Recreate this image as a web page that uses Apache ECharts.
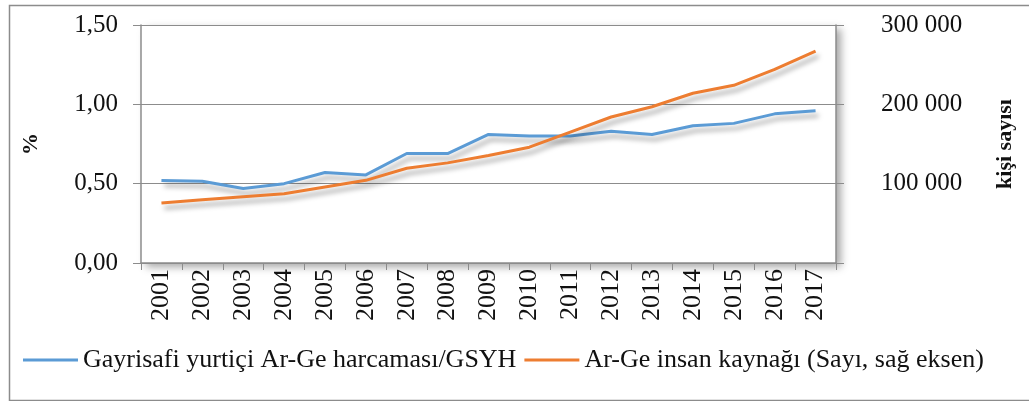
<!DOCTYPE html>
<head>
    <meta charset="utf-8">
    <title>ECharts</title>
</head>
<body style="margin:0">

<div id="main" style="height:401px;width:1029px"></div>
<script src="https://cdn.jsdelivr.net/npm/echarts@6/dist/echarts.min.js"></script>

<script type="text/javascript">
// yillar
var years = ['2001','2002','2003','2004','2005','2006','2007','2008','2009',
             '2010','2011','2012','2013','2014','2015','2016','2017'];
// Ar-Ge harcamasi / GSYH (%)
var argeGsyh = [0.52, 0.515, 0.47, 0.50, 0.57, 0.555, 0.69, 0.69, 0.81,
                0.80, 0.80, 0.83, 0.81, 0.865, 0.88, 0.94, 0.96];
// Ar-Ge insan kaynagi (kisi)
var argeInsan = [75600, 79700, 83500, 87300, 95800, 104200, 119400, 126200, 135500,
                 146000, 165000, 184000, 197000, 214000, 224000, 244000, 267000];
var leftTicks = [0, 0.5, 1, 1.5];
var rightTicks = [0, 100000, 200000, 300000];

var serif = '"Liberation Serif", "Times New Roman", serif';
var myChart = echarts.init(document.getElementById('main'));

function shadowLine(color) {
    return {
        color: color, width: 3,
        shadowColor: 'rgba(0,0,0,0.35)', shadowBlur: 5,
        shadowOffsetX: 3, shadowOffsetY: 5
    };
}

var option = {
    backgroundColor: '#fff',
    animation: false,
    graphic: [{
        type: 'rect', left: 7, top: 3,
        shape: { width: 1040, height: 395 },
        style: { fill: 'none', stroke: '#8c8c8c', lineWidth: 1.5 },
        z: -1
    }],
    grid: {
        left: 141, right: 193, top: 25, bottom: 138,
        show: true, backgroundColor: '#fff', borderWidth: 0,
        shadowColor: 'rgba(0,0,0,0.35)', shadowBlur: 8, shadowOffsetX: 5, shadowOffsetY: 4
    },
    legend: {
        left: 18, top: 342,
        icon: 'rect', itemWidth: 55, itemHeight: 3, itemGap: 8,
        textStyle: { fontFamily: serif, fontSize: 26, color: '#111' },
        data: ['Gayrisafi yurtiçi Ar-Ge harcaması/GSYH', 'Ar-Ge insan kaynağı (Sayı, sağ eksen)']
    },
    xAxis: {
        type: 'category',
        data: years,
        boundaryGap: true,
        axisLine: { lineStyle: { color: '#8c8c8c', width: 1.5 } },
        axisTick: { show: true, length: 7, lineStyle: { color: '#8c8c8c' } },
        axisLabel: { rotate: 90, margin: 6, fontFamily: serif, fontSize: 26, color: '#111' }
    },
    yAxis: [{
        type: 'value', min: leftTicks[0], max: leftTicks[3], interval: 0.5,
        name: '%', nameLocation: 'middle', nameRotate: 90, nameGap: 99,
        nameTextStyle: { fontFamily: serif, fontSize: 22, fontWeight: 'bold', color: '#111' },
        axisLine: { show: true, lineStyle: { color: '#8c8c8c', width: 1.5 } },
        axisTick: { show: true, length: 8, lineStyle: { color: '#8c8c8c' } },
        splitLine: { lineStyle: { color: '#8c8c8c', width: 1.2 } },
        axisLabel: {
            margin: 23, fontFamily: serif, fontSize: 25, color: '#111',
            formatter: function (v) { return v.toFixed(2).replace('.', ','); }
        }
    }, {
        type: 'value', min: rightTicks[0], max: rightTicks[3], interval: 100000,
        name: 'kişi sayısı', nameLocation: 'middle', nameRotate: 90, nameGap: 158,
        nameTextStyle: { fontFamily: serif, fontSize: 22, fontWeight: 'bold', color: '#111' },
        axisLine: { show: true, lineStyle: { color: '#8c8c8c', width: 1.5 } },
        axisTick: { show: true, length: 8, lineStyle: { color: '#8c8c8c' } },
        splitLine: { show: false },
        axisLabel: {
            margin: 45, fontFamily: serif, fontSize: 25, color: '#111',
            formatter: function (v) {
                if (v === 0) return '';
                return (v / 1000) + ' 000';
            }
        }
    }],
    series: [{
        name: 'Gayrisafi yurtiçi Ar-Ge harcaması/GSYH',
        type: 'line', yAxisIndex: 0,
        data: argeGsyh,
        showSymbol: false, symbol: 'none',
        itemStyle: { color: '#5b9bd5' },
        lineStyle: shadowLine('#5b9bd5')
    }, {
        name: 'Ar-Ge insan kaynağı (Sayı, sağ eksen)',
        type: 'line', yAxisIndex: 1,
        data: argeInsan,
        showSymbol: false, symbol: 'none',
        itemStyle: { color: '#ed7d31' },
        lineStyle: shadowLine('#ed7d31')
    }]
};
myChart.setOption(option);
</script>
</body>
